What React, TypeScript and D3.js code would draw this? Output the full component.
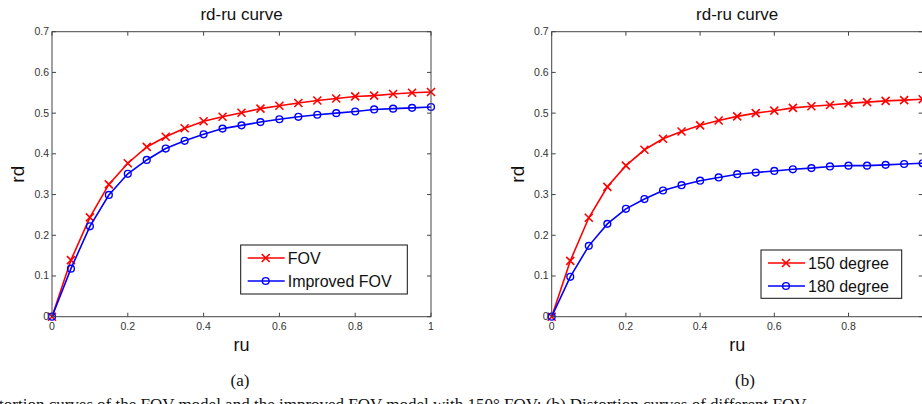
import React from 'react';
import { scaleLinear, line } from 'd3';

const ru = [0, 0.05, 0.1, 0.15, 0.2, 0.25, 0.3, 0.35, 0.4, 0.45, 0.5, 0.55, 0.6, 0.65, 0.7, 0.75, 0.8, 0.85, 0.9, 0.95, 1];
const fovRd = [0, 0.139, 0.244, 0.325, 0.377, 0.417, 0.442, 0.463, 0.48, 0.491, 0.501, 0.511, 0.518, 0.525, 0.531, 0.536, 0.541, 0.543, 0.547, 0.55, 0.552];
const improvedRd = [0, 0.118, 0.222, 0.299, 0.351, 0.385, 0.413, 0.432, 0.448, 0.462, 0.47, 0.478, 0.485, 0.491, 0.496, 0.5, 0.504, 0.509, 0.511, 0.513, 0.515];
const deg150Rd = [0, 0.137, 0.243, 0.319, 0.371, 0.41, 0.437, 0.455, 0.47, 0.482, 0.492, 0.5, 0.506, 0.513, 0.517, 0.52, 0.524, 0.527, 0.53, 0.532, 0.534];
const deg180Rd = [0, 0.098, 0.174, 0.228, 0.265, 0.289, 0.31, 0.323, 0.334, 0.342, 0.35, 0.354, 0.358, 0.362, 0.365, 0.369, 0.371, 0.371, 0.373, 0.375, 0.377];
const xTicks = [0, 0.2, 0.4, 0.6, 0.8, 1];
const yTicks = [0, 0.1, 0.2, 0.3, 0.4, 0.5, 0.6, 0.7];

const RED = '#ff0000';
const BLUE = '#0000ff';
const SANS = 'Liberation Sans, Arial, sans-serif';

function Marker({ kind, x, y, color }) {
	if (kind === 'x') {
		const s = 4;
		return (
			<path d={`M${x - s},${y - s}L${x + s},${y + s}M${x - s},${y + s}L${x + s},${y - s}`} stroke={color} strokeWidth={1.6} />
		);
	}
	return <circle cx={x} cy={y} r={3.4} fill="none" stroke={color} strokeWidth={1.4} />;
}

function Panel({ left, right, title, series, legend, width }) {
	const top = 31.7;
	const bottom = 316.7;
	const x = scaleLinear().domain([0, 1]).range([left, right]);
	const y = scaleLinear().domain([0, 0.7]).range([bottom, top]);
	const cx = (left + right) / 2;
	const tk = 4;

	return (
		<g fontFamily={SANS}>
			<text x={cx} y={20} textAnchor="middle" fontSize={17} fill="#111">{title}</text>
			{series.map((s) => {
				const path = line()
					.x((d) => x(d[0]))
					.y((d) => y(d[1]))(ru.map((r, i) => [r, s.values[i]]));
				return (
					<g key={s.name}>
						<path d={path} fill="none" stroke={s.color} strokeWidth={1.6} />
						{ru.map((r, i) => (
							<Marker key={i} kind={s.marker} x={x(r)} y={y(s.values[i])} color={s.color} />
						))}
					</g>
				);
			})}
			<rect x={left} y={top} width={right - left} height={bottom - top} fill="none" stroke="#444" strokeWidth={1} />
			{xTicks.map((t) => (
				<g key={'x' + t}>
					<line x1={x(t)} x2={x(t)} y1={bottom} y2={bottom - tk} stroke="#444" />
					<line x1={x(t)} x2={x(t)} y1={top} y2={top + tk} stroke="#444" />
					{x(t) < width - 4 && (
						<text x={x(t)} y={330} textAnchor="middle" fontSize={10.5} fill="#333">{t}</text>
					)}
				</g>
			))}
			{yTicks.map((t) => (
				<g key={'y' + t}>
					<line x1={left} x2={left + tk} y1={y(t)} y2={y(t)} stroke="#444" />
					<line x1={right} x2={right - tk} y1={y(t)} y2={y(t)} stroke="#444" />
					<text x={left - 3} y={y(t) + 3.5} textAnchor="end" fontSize={10.5} fill="#333">{t}</text>
				</g>
			))}
			<text x={cx} y={351} textAnchor="middle" fontSize={18} fill="#111">ru</text>
			<text transform={`translate(${left - 28},${(top + bottom) / 2}) rotate(-90)`} textAnchor="middle" fontSize={19} fill="#111">rd</text>
			<rect x={legend.x} y={legend.y} width={legend.w} height={legend.h} fill="#fff" stroke="#111" strokeWidth={1} />
			{series.map((s, i) => {
				const ly = legend.y + 13 + i * 23;
				return (
					<g key={'l' + s.name}>
						<line x1={legend.x + 7} x2={legend.x + 44} y1={ly} y2={ly} stroke={s.color} strokeWidth={1.6} />
						<Marker kind={s.marker} x={legend.x + 25} y={ly} color={s.color} />
						<text x={legend.x + 47} y={ly + 6} fontSize={16} fill="#111">{s.name}</text>
					</g>
				);
			})}
		</g>
	);
}

export default function App() {
	const W = 922;
	return (
		<svg width={W} height={404} style={{ position: 'absolute', left: 0, top: 0, background: '#fff' }}>
			<rect width={W} height={404} fill="#fff" />
			<Panel
				left={52}
				right={431}
				width={W}
				title="rd-ru curve"
				series={[
					{ name: 'FOV', values: fovRd, color: RED, marker: 'x' },
					{ name: 'Improved FOV', values: improvedRd, color: BLUE, marker: 'o' },
				]}
				legend={{ x: 240.7, y: 245, w: 166.6, h: 49 }}
			/>
			<Panel
				left={551.7}
				right={922.7}
				width={W}
				title="rd-ru curve"
				series={[
					{ name: '150 degree', values: deg150Rd, color: RED, marker: 'x' },
					{ name: '180 degree', values: deg180Rd, color: BLUE, marker: 'o' },
				]}
				legend={{ x: 761, y: 250, w: 140.7, h: 48.3 }}
			/>
			<g fontFamily="Liberation Serif, Times New Roman, serif" fill="#111">
				<text x={240} y={386} textAnchor="middle" fontSize={17}>(a)</text>
				<text x={745} y={386} textAnchor="middle" fontSize={17}>(b)</text>
				<text x={93} y={410} textAnchor="end" fontSize={17}>(a) Distortion curves</text>
				<text x={97} y={410} fontSize={17}>of the FOV model and the improved FOV model with 150° FOV; (b) Distortion curves of different FOV</text>
			</g>
		</svg>
	);
}
